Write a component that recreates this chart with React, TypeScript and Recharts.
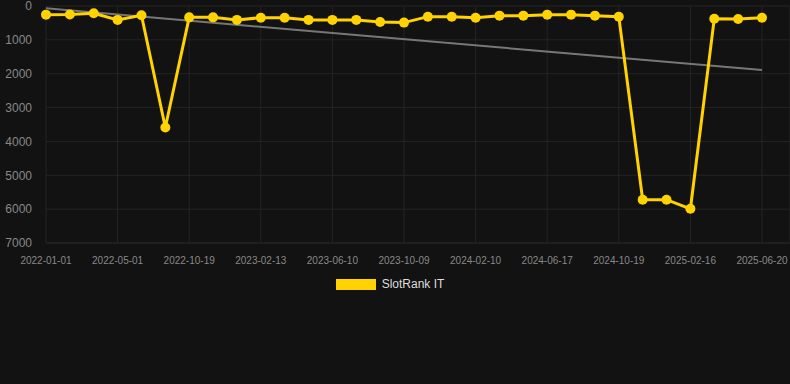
import { LineChart, Line, XAxis, YAxis, CartesianGrid, Legend, ReferenceLine } from "recharts";

const dates = [
  "2022-01-01", "2022-02-10", "2022-03-22", "2022-05-01", "2022-06-27", "2022-08-23",
  "2022-10-19", "2022-11-27", "2023-01-05", "2023-02-13", "2023-03-23", "2023-05-01",
  "2023-06-10", "2023-07-20", "2023-08-29", "2023-10-09", "2023-11-19", "2023-12-30",
  "2024-02-10", "2024-03-23", "2024-05-05", "2024-06-17", "2024-07-29", "2024-09-08",
  "2024-10-19", "2024-11-29", "2025-01-07", "2025-02-16", "2025-03-29", "2025-05-09",
  "2025-06-20",
];

const slotRankIT = [
  255, 250, 215, 410, 275, 3590, 335, 335, 410, 345, 345, 410, 410, 410, 470, 490,
  315, 315, 345, 285, 285, 255, 255, 285, 315, 5720, 5720, 5990, 375, 385, 345,
];

const tickLabels = [
  "2022-01-01", "2022-05-01", "2022-10-19", "2023-02-13", "2023-06-10", "2023-10-09",
  "2024-02-10", "2024-06-17", "2024-10-19", "2025-02-16", "2025-06-20",
];

const rankTicks = [0, 1000, 2000, 3000, 4000, 5000, 6000, 7000];

// trend line end points
const trendStart = 70;
const trendEnd = 1890;

const YELLOW = "#ffd200";
const FONT = "'Liberation Sans', Arial, sans-serif";

const data = dates.map((d, i) => ({ date: d, rank: slotRankIT[i] }));

function LegendContent() {
  return (
    <div style={{ display: "flex", justifyContent: "center", alignItems: "center", fontFamily: FONT, fontSize: 12, color: "#dddddd", height: 20, paddingRight: 10 }}>
      <span style={{ display: "inline-block", width: 40, height: 11, background: YELLOW, marginRight: 6 }} />
      <span>SlotRank IT</span>
    </div>
  );
}

export default function App() {
  return (
    <div style={{ width: 790, height: 384, background: "#121212", overflow: "hidden" }}>
      <style>{"body{margin:0;background:#121212;}"}</style>
      <LineChart width={790} height={384} data={data} margin={{ top: 6, right: 0, bottom: 91, left: 0 }}>
        <CartesianGrid stroke="#242424" strokeWidth={1} />
        <XAxis
          dataKey="date"
          ticks={tickLabels}
          interval={0}
          padding={{ left: 0, right: 28 }}
          tick={{ fill: "#888888", fontSize: 10, fontFamily: FONT }}
          tickLine={false}
          axisLine={{ stroke: "#242424" }}
          height={30}
          tickMargin={8}
        />
        <YAxis
          reversed
          domain={[0, 7000]}
          ticks={rankTicks}
          interval={0}
          width={46}
          tick={{ fill: "#888888", fontSize: 12, fontFamily: FONT }}
          tickLine={false}
          axisLine={false}
          tickMargin={8}
        />
        <Legend verticalAlign="bottom" content={<LegendContent />} wrapperStyle={{ top: 274, bottom: "auto" }} />
        <ReferenceLine
          segment={[{ x: dates[0], y: trendStart }, { x: dates[dates.length - 1], y: trendEnd }]}
          stroke="#777777"
          strokeWidth={2}
          ifOverflow="visible"
        />
        <Line
          type="linear"
          dataKey="rank"
          name="SlotRank IT"
          stroke={YELLOW}
          strokeWidth={3}
          dot={{ r: 5, fill: YELLOW, stroke: YELLOW, strokeWidth: 0 }}
          activeDot={false}
          isAnimationActive={false}
        />
      </LineChart>
    </div>
  );
}
